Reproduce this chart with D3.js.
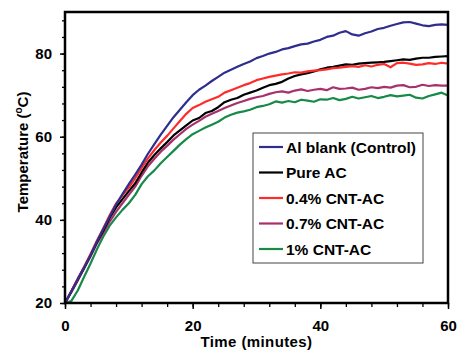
<!DOCTYPE html>
<html>
<head>
<meta charset="utf-8">
<script src="https://cdn.jsdelivr.net/npm/d3@7"></script>
<style>
  html, body { margin: 0; padding: 0; background: #fff; }
  svg { display: block; font-family: "Liberation Sans", Arial, sans-serif; }
</style>
</head>
<body>
<svg id="chart" width="458" height="350"></svg>
<script>
// time in minutes, one reading per minute
const minutes = d3.range(0, 61);

const blank = [20, 22.8, 25.8, 28.6, 31.5, 34.8, 37.8, 40.8, 43.7, 46.2,
  48.6, 50.9, 53.3, 55.9, 58.2, 60.5, 62.6, 64.7, 66.5, 68.3,
  70.0, 71.3, 72.3, 73.4, 74.4, 75.4, 76.1, 76.8, 77.5, 78.1,
  78.9, 79.4, 80.0, 80.4, 81.0, 81.3, 81.8, 82.2, 82.4, 82.9,
  83.3, 84.0, 84.3, 85.0, 85.4, 84.6, 84.3, 84.9, 85.3, 85.9,
  86.2, 86.7, 87.1, 87.5, 87.6, 87.2, 86.8, 86.6, 86.9, 87.0, 86.9];

const pureAC = [20, 22.8, 25.6, 28.5, 31.5, 34.6, 37.4, 40.5, 43.0, 45.0,
  46.9, 48.8, 51.4, 53.8, 55.6, 57.2, 58.7, 60.3, 61.5, 62.7,
  63.9, 64.5, 65.7, 66.2, 67.1, 68.3, 68.9, 69.3, 70.1, 70.6,
  71.1, 71.8, 72.4, 72.7, 73.2, 74.0, 74.6, 75.0, 75.3, 75.7,
  76.2, 76.6, 76.8, 77.1, 77.4, 77.3, 77.6, 77.7, 77.8, 77.9,
  78.0, 78.2, 78.4, 78.6, 78.5, 78.8, 79.0, 79.0, 79.2, 79.3, 79.4];

const cnt04 = [20, 22.9, 25.8, 28.7, 31.8, 35.0, 38.0, 41.1, 43.9, 45.9,
  47.8, 50.0, 52.5, 54.8, 56.8, 58.6, 60.2, 62.0, 63.8, 65.5,
  66.9, 67.6, 68.4, 69.0, 69.6, 70.6, 71.2, 71.8, 72.4, 72.9,
  73.6, 74.0, 74.4, 74.7, 75.0, 75.2, 75.5, 75.4, 75.7, 75.9,
  76.0, 76.2, 76.5, 76.6, 76.8, 77.0, 76.8, 77.2, 76.9, 77.3,
  77.5, 76.7, 77.7, 77.8, 77.6, 77.3, 77.4, 77.7, 77.5, 77.8, 77.6];

const cnt07 = [20, 22.6, 25.4, 28.3, 31.2, 34.3, 36.9, 39.6, 41.9, 44.0,
  46.0, 48.0, 50.6, 52.9, 54.7, 56.4, 57.8, 59.3, 60.6, 61.9,
  62.9, 63.8, 64.8, 65.5, 66.2, 66.9, 67.5, 68.1, 68.6, 69.1,
  69.5, 69.8, 70.3, 70.7, 70.9, 70.6, 71.1, 71.4, 71.0, 71.3,
  71.5, 71.2, 71.9, 71.5, 71.6, 71.8, 71.3, 71.5, 71.9, 71.7,
  72.0, 71.8, 72.3, 72.4, 71.9, 72.0, 72.5, 72.2, 72.4, 72.3, 72.3];

const cnt1 = [20, 20.5, 23.0, 26.3, 29.5, 32.9, 36.0, 38.6, 40.6, 42.4,
  44.0, 46.0, 48.6, 50.5, 51.9, 53.6, 55.1, 56.6, 58.1, 59.4,
  60.6, 61.4, 62.2, 62.9, 63.6, 64.6, 65.3, 65.8, 66.1, 66.5,
  67.1, 67.4, 67.8, 68.5, 68.2, 68.6, 68.3, 68.9, 68.7, 68.4,
  69.0, 68.9, 69.3, 68.8, 69.1, 69.6, 69.2, 69.5, 69.8, 69.3,
  69.6, 70.0, 69.7, 69.9, 70.1, 69.4, 69.2, 69.8, 70.2, 70.6, 69.9];

const seriesNames = ['Al blank (Control)', 'Pure AC', '0.4% CNT-AC', '0.7% CNT-AC', '1% CNT-AC'];
const seriesValues = [blank, pureAC, cnt04, cnt07, cnt1];
const seriesColors = ['#2e2e8e', '#000000', '#ff2b2b', '#a8306c', '#168a48'];

// draw order: back to front
const drawOrder = [4, 3, 1, 2, 0];

const xMajor = [0, 20, 40, 60];
const xMinor = d3.range(0, 61, 4);
const yMajor = [20, 40, 60, 80];
const yMinor = d3.range(20, 90, 4);

const WIDTH = 458, HEIGHT = 350;
const margin = { top: 12, right: 10, bottom: 47, left: 65 };
const innerW = WIDTH - margin.left - margin.right;
const innerH = HEIGHT - margin.top - margin.bottom;

const svg = d3.select('#chart');
const g = svg.append('g').attr('transform', `translate(${margin.left},${margin.top})`);

const x = d3.scaleLinear().domain([0, 60]).range([0, innerW]);
const y = d3.scaleLinear().domain([20, 90]).range([innerH, 0]);

// minor ticks
g.append('g')
    .attr('transform', `translate(0,${innerH})`)
    .call(d3.axisBottom(x).tickValues(xMinor).tickSize(4).tickFormat(''))
    .call(a => a.select('.domain').remove())
    .call(a => a.selectAll('line').attr('stroke', '#000').attr('stroke-width', 1.3));

g.append('g')
    .call(d3.axisLeft(y).tickValues(yMinor).tickSize(3).tickFormat(''))
    .call(a => a.select('.domain').remove())
    .call(a => a.selectAll('line').attr('stroke', '#000').attr('stroke-width', 1.3));

// major ticks + labels
g.append('g')
    .attr('transform', `translate(0,${innerH})`)
    .call(d3.axisBottom(x).tickValues(xMajor).tickSize(6).tickPadding(11).tickFormat(d3.format('d')))
    .call(a => a.select('.domain').remove())
    .call(a => a.selectAll('line').attr('stroke', '#000').attr('stroke-width', 1.5))
    .call(a => a.selectAll('text')
        .attr('fill', '#000')
        .style('font-size', '15px')
        .style('font-weight', 'bold')
        .style('font-family', '"Liberation Sans", Arial, sans-serif'));

g.append('g')
    .call(d3.axisLeft(y).tickValues(yMajor).tickSize(5).tickPadding(8).tickFormat(d3.format('d')))
    .call(a => a.select('.domain').remove())
    .call(a => a.selectAll('line').attr('stroke', '#000').attr('stroke-width', 1.5))
    .call(a => a.selectAll('text')
        .attr('fill', '#000')
        .style('font-size', '15px')
        .style('font-weight', 'bold')
        .style('font-family', '"Liberation Sans", Arial, sans-serif'));

// series lines
const line = d3.line()
    .x((d, i) => x(minutes[i]))
    .y(d => y(d));

drawOrder.forEach(k => {
    g.append('path')
        .datum(seriesValues[k])
        .attr('fill', 'none')
        .attr('stroke', seriesColors[k])
        .attr('stroke-width', 2.2)
        .attr('stroke-linejoin', 'round')
        .attr('d', line);
});

// plot frame
g.append('rect')
    .attr('x', 0).attr('y', 0)
    .attr('width', innerW).attr('height', innerH)
    .attr('fill', 'none')
    .attr('stroke', '#000')
    .attr('stroke-width', 2.5);

// axis titles
svg.append('text')
    .attr('x', margin.left + innerW / 2)
    .attr('y', 347)
    .attr('text-anchor', 'middle')
    .style('font-size', '15px')
    .style('font-weight', 'bold')
    .style('letter-spacing', '0.4px')
    .text('Time (minutes)');

const yTitle = svg.append('text')
    .attr('transform', 'translate(28,152) rotate(-90)')
    .attr('text-anchor', 'middle')
    .style('font-size', '15px')
    .style('font-weight', 'bold');
yTitle.append('tspan').text('Temperature (');
yTitle.append('tspan').attr('dy', -6).style('font-size', '10px').text('o');
yTitle.append('tspan').attr('dy', 6).text('C)');

// legend
const legend = svg.append('g').attr('transform', 'translate(253,133)');
legend.append('rect')
    .attr('width', 170).attr('height', 130)
    .attr('fill', '#fff')
    .attr('stroke', '#444')
    .attr('stroke-width', 1);

seriesNames.forEach((name, i) => {
    const row = legend.append('g').attr('transform', `translate(0,${14 + i * 25.5})`);
    row.append('line')
        .attr('x1', 6).attr('x2', 30)
        .attr('y1', 0).attr('y2', 0)
        .attr('stroke', seriesColors[i])
        .attr('stroke-width', 2.2);
    row.append('text')
        .attr('x', 33)
        .attr('y', 0)
        .attr('dy', '0.36em')
        .style('font-size', '15.5px')
        .style('font-weight', 'bold')
        .text(name);
});
</script>
</body>
</html>
